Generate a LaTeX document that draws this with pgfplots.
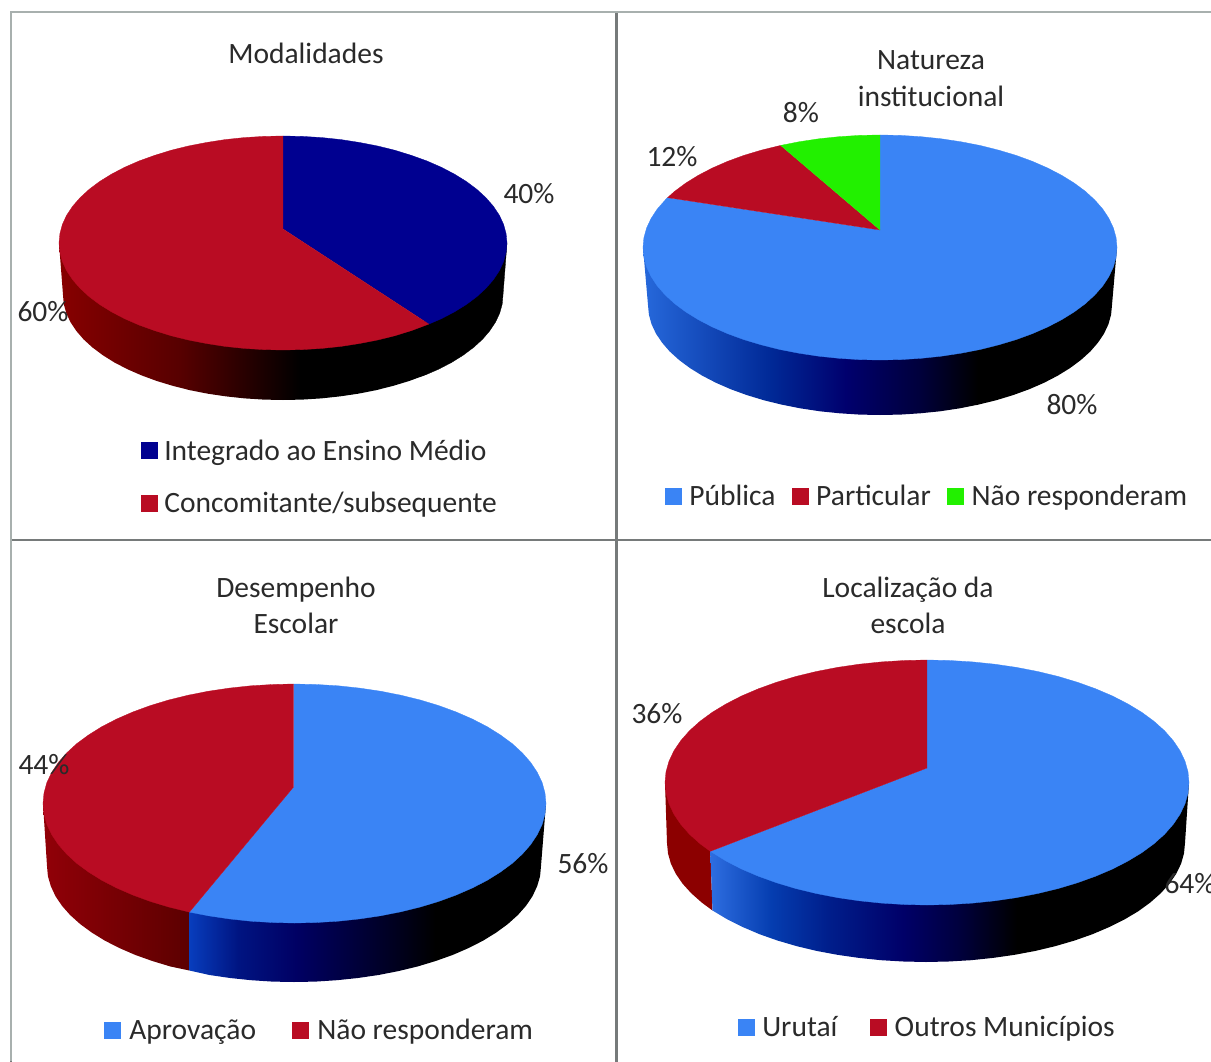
\documentclass[border=0pt]{standalone}
\usepackage{fontspec}
\setmainfont{Carlito}
\usepackage{pgfplots}
\pgfplotsset{compat=1.18}
\definecolor{pieNavy}{RGB}{0,0,144}
\definecolor{pieRed}{RGB}{185,12,35}
\definecolor{pieBlue}{RGB}{58,132,245}
\definecolor{pieGreen}{RGB}{34,240,0}
\definecolor{wallRed}{RGB}{140,0,0}
\definecolor{inkText}{RGB}{42,42,42}
\definecolor{frameDark}{RGB}{118,122,122}
\definecolor{frameLight}{RGB}{168,176,174}

% Side-wall gradients: the path's width runs from 25bp to 75bp
\pgfdeclarehorizontalshading{wallA}{100bp}{rgb(0bp)=(.53,0,0); rgb(25bp)=(.53,0,0); rgb(41.4bp)=(.34,0,0); rgb(57.6bp)=(0,0,0); rgb(100bp)=(0,0,0)}
\pgfdeclarehorizontalshading{wallB}{100bp}{rgb(0bp)=(.15,.41,.86); rgb(25bp)=(.15,.41,.86); rgb(38.5bp)=(0,.16,.59); rgb(46.4bp)=(0,0,.43); rgb(54.3bp)=(0,0,.23); rgb(60.3bp)=(0,0,0); rgb(100bp)=(0,0,0)}
\pgfdeclarehorizontalshading{wallC}{100bp}{rgb(0bp)=(.03,.24,.74); rgb(25bp)=(.03,.24,.74); rgb(31.8bp)=(0,.08,.51); rgb(40bp)=(0,0,.39); rgb(53.9bp)=(0,0,.12); rgb(59.5bp)=(0,0,0); rgb(100bp)=(0,0,0)}
\pgfdeclarehorizontalshading{wallCr}{100bp}{rgb(0bp)=(.57,0,.03); rgb(25bp)=(.57,0,.03); rgb(75bp)=(.36,0,0); rgb(100bp)=(.36,0,0)}
\pgfdeclarehorizontalshading{wallD}{100bp}{rgb(0bp)=(.18,.43,.88); rgb(25bp)=(.18,.43,.88); rgb(31.4bp)=(.02,.24,.69); rgb(37.2bp)=(0,.12,.55); rgb(45.1bp)=(0,0,.41); rgb(51bp)=(0,0,.24); rgb(57bp)=(0,0,0); rgb(100bp)=(0,0,0)}

\pgfplotsset{
  panel/.style={
    scale only axis, anchor=south west, y dir=reverse, ticks=none, clip=false,
    axis line style={frameDark, line width=2.6pt},
    legend cell align=left,
    legend image code/.code={\fill[##1] (0pt,-8pt) rectangle (16pt,8pt);},
    legend style={draw=none, fill=none, inner sep=0pt, outer sep=0pt, text=inkText,
      font=\fontsize{29.5}{32}\selectfont,
      nodes={inner sep=0pt, outer sep=0pt}},
  },
  slice/.style={fill=#1, draw=#1, line width=0.3pt},
  every axis plot/.append style={mark=none},
}
\newcommand{\lab}[3]{\node[text=inkText, font=\fontsize{29.5}{32}\selectfont, align=center] at (axis cs:#1,#2) {#3};}

\begin{document}
\begin{tikzpicture}
\path[use as bounding box, clip] (0pt,0pt) rectangle (1211pt,1061pt);

% Modalidades
\begin{axis}[panel, at={(11pt,521pt)}, width=605.5pt, height=528pt,
  xmin=11, xmax=616.5, ymin=12, ymax=540,
  legend columns=1,
  legend style={at={(axis cs:141,477)}, anchor=west,
    /tikz/row sep=31pt, /tikz/every odd column/.append style={column sep=7pt}}]
\addplot[shading=wallA, draw=none, forget plot] coordinates {(59,243) (63,295) (63.8,304.2) (66.3,313.2) (70.5,322.2) (76.3,330.9) (83.6,339.4) (92.5,347.5) (102.8,355.2) (114.5,362.5) (127.4,369.2) (141.6,375.4) (156.8,381) (173,385.9) (190,390.2) (207.8,393.7) (226.1,396.4) (244.8,398.4) (263.8,399.6) (283,400) (302.2,399.6) (321.2,398.4) (339.9,396.4) (358.2,393.7) (376,390.2) (393,385.9) (409.2,381) (424.4,375.4) (428,373.8) (428.8,324.1)};
\addplot[fill=black, draw=black, line width=0.3pt, forget plot] coordinates {(420,324.1) (420,376.6) (428,373.8) (438.6,369.2) (451.5,362.5) (463.2,355.2) (473.5,347.5) (482.4,339.4) (489.7,330.9) (495.5,322.2) (499.7,313.2) (502.2,304.2) (503,295) (507,243)};
\addplot[slice=pieNavy] coordinates {(283,229) (283,136) (302.5,136.4) (321.9,137.6) (341,139.6) (359.6,142.5) (377.7,146) (395,150.3) (411.5,155.4) (427,161) (441.4,167.3) (454.6,174.2) (466.5,181.6) (477,189.5) (486,197.8) (493.5,206.4) (499.4,215.3) (503.6,224.4) (506.1,233.7) (507,243) (506.1,252.3) (503.6,261.6) (499.4,270.7) (493.5,279.6) (486,288.2) (477,296.5) (466.5,304.4) (454.6,311.8) (441.4,318.7) (428.8,324.1)};
\addplot[slice=pieRed] coordinates {(283,229) (428.8,324.1) (411.5,330.6) (395,335.7) (377.7,340) (359.6,343.5) (341,346.4) (321.9,348.4) (302.5,349.6) (283,350) (263.5,349.6) (244.1,348.4) (225,346.4) (206.4,343.5) (188.3,340) (171,335.7) (154.5,330.6) (139,325) (124.6,318.7) (111.4,311.8) (99.5,304.4) (89,296.5) (80,288.2) (72.5,279.6) (66.6,270.7) (62.4,261.6) (59.9,252.3) (59,243) (59.9,233.7) (62.4,224.4) (66.6,215.3) (72.5,206.4) (80,197.8) (89,189.5) (99.5,181.6) (111.4,174.2) (124.6,167.3) (139,161) (154.5,155.4) (171,150.3) (188.3,146) (206.4,142.5) (225,139.6) (244.1,137.6) (263.5,136.4) (283,136)};
\legend{Integrado ao Ensino Médio, Concomitante/subsequente}
\lab{306}{53}{Modalidades}
\lab{529}{194}{40\%}
\lab{43}{312}{60\%}
\end{axis}

% Natureza institucional
\begin{axis}[panel, at={(616.5pt,521pt)}, width=613.5pt, height=528pt,
  xmin=616.5, xmax=1230, ymin=12, ymax=540,
  legend columns=3,
  legend style={at={(axis cs:665,496)}, anchor=west,
    /tikz/every even column/.append style={column sep=16.5pt},
    /tikz/every odd column/.append style={column sep=8pt}}]
\addplot[shading=wallB, draw=none, forget plot] coordinates {(643,247.5) (648,305) (648.9,314.6) (651.5,324.1) (655.9,333.5) (662,342.6) (669.7,351.5) (679.1,360) (690,368.1) (702.3,375.7) (716,382.8) (730.9,389.3) (746.9,395.1) (764,400.3) (782,404.7) (800.7,408.4) (820,411.3) (839.7,413.3) (859.8,414.6) (880,415) (900.2,414.6) (920.3,413.3) (940,411.3) (959.3,408.4) (978,404.7) (996,400.3) (1013.1,395.1) (1029.1,389.3) (1044,382.8) (1057.7,375.7) (1070,368.1) (1080.9,360) (1090.3,351.5) (1098,342.6) (1104.1,333.5) (1108.5,324.1) (1111.1,314.6) (1112,305) (1117,247.5)};
\addplot[slice=pieBlue] coordinates {(880,230) (880,135) (900.7,135.4) (921.1,136.7) (941.3,138.8) (961.1,141.8) (980.2,145.5) (998.5,150.1) (1015.9,155.3) (1032.3,161.3) (1047.6,168) (1061.5,175.2) (1074.1,183) (1085.2,191.2) (1094.8,200) (1102.7,209) (1108.9,218.4) (1113.4,228) (1116.1,237.7) (1117,247.5) (1116.1,257.3) (1113.4,267) (1108.9,276.6) (1102.7,286) (1094.8,295) (1085.2,303.8) (1074.1,312) (1061.5,319.8) (1047.6,327) (1032.3,333.7) (1015.9,339.7) (998.5,344.9) (980.2,349.5) (961.1,353.2) (941.3,356.2) (921.1,358.3) (900.7,359.6) (880,360) (859.3,359.6) (838.9,358.3) (818.7,356.2) (798.9,353.2) (779.8,349.5) (761.5,344.9) (744.1,339.7) (727.7,333.7) (712.4,327) (698.5,319.8) (685.9,312) (674.8,303.8) (665.2,295) (657.3,286) (651.1,276.6) (646.6,267) (643.9,257.3) (643,247.5) (643.9,237.7) (646.6,228) (651.1,218.4) (657.3,209) (665.2,200) (667.6,197.6)};
\addplot[slice=pieRed] coordinates {(880,230) (667.6,197.6) (674.8,191.2) (685.9,183) (698.5,175.2) (712.4,168) (727.7,161.3) (744.1,155.3) (761.5,150.1) (780.7,145.4)};
\addplot[slice=pieGreen] coordinates {(880,230) (780.7,145.4) (798.9,141.8) (818.7,138.8) (838.9,136.7) (859.3,135.4) (880,135)};
\legend{Pública, Particular, Não responderam}
\lab{931}{60}{Natureza}
\lab{931}{96}{institucional}
\lab{801}{113}{8\%}
\lab{672}{157}{12\%}
\lab{1072}{405}{80\%}
\end{axis}

% Desempenho escolar
\begin{axis}[panel, at={(11pt,-14pt)}, width=605.5pt, height=535pt,
  xmin=11, xmax=616.5, ymin=540, ymax=1075,
  legend columns=2,
  legend style={at={(axis cs:104,1030)}, anchor=west,
    /tikz/every even column/.append style={column sep=36pt},
    /tikz/every odd column/.append style={column sep=9pt}}]
\addplot[shading=wallCr, draw=none, forget plot] coordinates {(43,803.5) (47,866) (47.9,876.1) (50.8,886.1) (55.4,896) (61.9,905.7) (70.1,915) (80.1,924) (91.7,932.5) (104.8,940.6) (119.3,948) (135.2,954.9) (152.3,961) (170.5,966.5) (189.4,970.5) (189.4,912.1)};
\addplot[shading=wallC, draw=none, forget plot] coordinates {(189.4,912.1) (189.4,970.5) (209.5,975) (230.1,978) (251.1,980.2) (272.5,981.6) (294,982) (315.5,981.6) (336.9,980.2) (357.9,978) (378.5,975) (398.4,971.1) (417.5,966.5) (435.7,961) (452.8,954.9) (468.7,948) (483.2,940.6) (496.3,932.5) (507.9,924) (517.9,915) (526.1,905.7) (532.6,896) (537.2,886.1) (540.1,876.1) (541,866) (546,803.5)};
\addplot[slice=pieBlue] coordinates {(293.5,787) (293.5,684) (316.4,684.5) (338.2,685.8) (359.6,688.1) (380.5,691.2) (400.8,695.2) (420.3,700) (438.8,705.6) (456.2,712) (472.3,719) (487.2,726.7) (500.5,735) (512.3,743.7) (522.4,753) (530.8,762.6) (537.4,772.6) (542.2,782.7) (545,793.1) (546,803.5) (545,813.9) (542.2,824.3) (537.4,834.4) (530.8,844.4) (522.4,854) (512.3,863.3) (500.5,872) (487.2,880.3) (472.3,888) (456.2,895) (438.8,901.4) (420.3,907) (400.8,911.8) (380.5,915.8) (359.6,918.9) (338.2,921.2) (316.4,922.5) (294.5,923) (272.6,922.5) (250.8,921.2) (229.4,918.9) (208.5,915.8) (189.4,912.1)};
\addplot[slice=pieRed] coordinates {(293.5,787) (189.4,912.1) (168.7,907) (150.2,901.4) (132.8,895) (116.7,888) (101.8,880.3) (88.5,872) (76.7,863.3) (66.6,854) (58.2,844.4) (51.6,834.4) (46.8,824.3) (44,813.9) (43,803.5) (44,793.1) (46.8,782.7) (51.6,772.6) (58.2,762.6) (66.6,753) (76.7,743.7) (88.5,735) (101.8,726.7) (116.7,719) (132.8,712) (150.2,705.6) (168.7,700) (188.2,695.2) (208.5,691.2) (229.4,688.1) (250.8,685.8) (272.6,684.5) (293.5,684)};
\legend{Aprovação, Não responderam}
\lab{296}{589.5}{Desempenho}
\lab{296}{623.5}{Escolar}
\lab{44}{765}{44\%}
\lab{583}{864}{56\%}
\end{axis}

% Localização da escola
\begin{axis}[panel, at={(616.5pt,-14pt)}, width=613.5pt, height=535pt,
  xmin=616.5, xmax=1230, ymin=540, ymax=1075,
  legend columns=2,
  legend style={at={(axis cs:738,1027)}, anchor=west,
    /tikz/every even column/.append style={column sep=33pt},
    /tikz/every odd column/.append style={column sep=8pt}}]
\addplot[fill=wallRed, draw=none, forget plot] coordinates {(665,782.5) (667,843) (668,853.4) (670.9,863.7) (675.8,873.8) (682.6,883.7) (691.3,893.3) (701.7,902.5) (712.5,910.5) (710.3,851.3)};
\addplot[shading=wallD, draw=none, forget plot] coordinates {(710.3,851.3) (712.5,910.5) (727.6,919.5) (742.9,927.1) (759.5,934.2) (777.4,940.5) (796.5,946.1) (816.5,950.9) (837.4,954.8) (859,957.9) (881,960.2) (903.4,961.5) (926,962) (948.6,961.5) (971,960.2) (993,957.9) (1014.6,954.8) (1035.5,950.9) (1055.5,946.1) (1074.6,940.5) (1092.5,934.2) (1109.1,927.1) (1124.4,919.5) (1138.2,911.3) (1150.3,902.5) (1160.7,893.3) (1169.4,883.7) (1176.2,873.8) (1181.1,863.7) (1184,853.4) (1185,843) (1189,782.5)};
\addplot[slice=pieBlue] coordinates {(927,768) (927,660) (949.8,660.5) (972.5,661.9) (994.8,664.2) (1016.6,667.4) (1037.7,671.5) (1058,676.4) (1077.3,682.2) (1095.4,688.7) (1112.3,695.9) (1127.7,703.8) (1141.6,712.2) (1153.9,721.2) (1164.5,730.7) (1173.2,740.6) (1180.1,750.8) (1185,761.2) (1188,771.8) (1189,782.5) (1188,793.2) (1185,803.8) (1180.1,814.2) (1173.2,824.4) (1164.5,834.3) (1153.9,843.8) (1141.6,852.8) (1127.7,861.2) (1112.3,869.1) (1095.4,876.3) (1077.3,882.8) (1058,888.6) (1037.7,893.5) (1016.6,897.6) (994.8,900.8) (972.5,903.1) (949.8,904.5) (927,905) (904.2,904.5) (881.5,903.1) (859.2,900.8) (837.4,897.6) (816.3,893.5) (796,888.6) (776.7,882.8) (758.6,876.3) (741.7,869.1) (726.3,861.2) (710.3,851.3)};
\addplot[slice=pieRed] coordinates {(927,768) (710.3,851.3) (700.1,843.8) (689.5,834.3) (680.8,824.4) (673.9,814.2) (669,803.8) (666,793.2) (665,782.5) (666,771.8) (669,761.2) (673.9,750.8) (680.8,740.6) (689.5,730.7) (700.1,721.2) (712.4,712.2) (726.3,703.8) (741.7,695.9) (758.6,688.7) (776.7,682.2) (796,676.4) (816.3,671.5) (837.4,667.4) (859.2,664.2) (881.5,661.9) (904.2,660.5) (927,660)};
\legend{Urutaí, Outros Municípios}
\lab{908}{589.5}{Localização da}
\lab{908}{623.5}{escola}
\lab{657}{714}{36\%}
\lab{1190}{884}{64\%}
\end{axis}

% Lighter outer edges of the panel grid
\draw[frameLight, line width=2.6pt] (11pt,0pt) -- (11pt,1049pt) -- (1211pt,1049pt);
\end{tikzpicture}
\end{document}
